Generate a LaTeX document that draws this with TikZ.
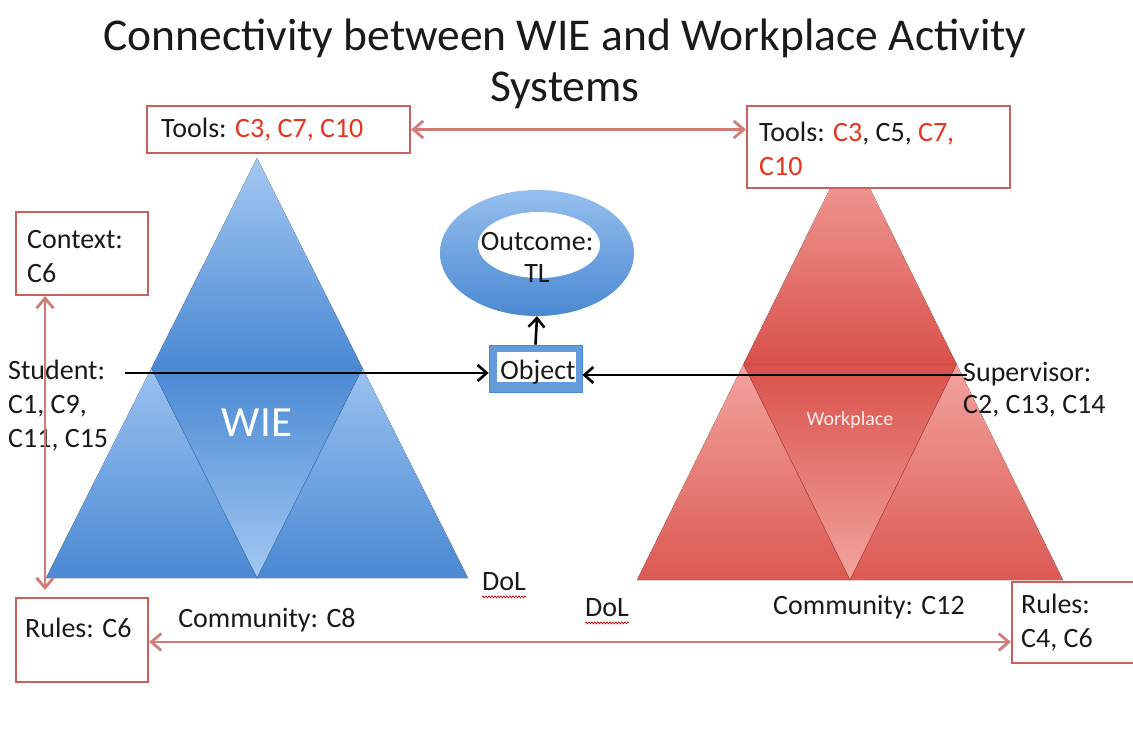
\documentclass[tikz,border=0pt]{standalone}
\usepackage{fontspec}
\setmainfont{Carlito}
\usetikzlibrary{arrows.meta,shapes.geometric,decorations.pathmorphing,calc}
\definecolor{boxred}{HTML}{C9605B}
\definecolor{arrred}{HTML}{D27B77}
\definecolor{txtred}{HTML}{E8331F}
\definecolor{txtblk}{HTML}{1A1A1A}
\definecolor{bluedark}{HTML}{4A89D3}
\definecolor{bluelight}{HTML}{A3C8F2}
\definecolor{blueedge}{HTML}{3F78BA}
\definecolor{reddark}{HTML}{D9514A}
\definecolor{redlight}{HTML}{F3A39E}
\definecolor{rededge}{HTML}{B5443E}
\begin{document}
\begin{tikzpicture}[x=1pt,y=-1pt,
  txt/.style={inner sep=0pt,text=txtblk,font=\fontsize{28}{34}\selectfont,align=left},
  box/.style={draw=boxred,line width=2.2pt,fill=white,rectangle,inner sep=0pt},
  redarrow/.style={draw=arrred,line width=2.8pt,{Straight Barb[length=10pt,width=17pt]}-{Straight Barb[length=10pt,width=17pt]}},
  blkarrow/.style={draw=black,line width=2.6pt,-{Straight Barb[length=9pt,width=16pt]}},
  wavy/.style={draw=red!80!black,line width=0.7pt,decorate,decoration={snake,amplitude=1pt,segment length=3pt}}
]
\useasboundingbox (0,0) rectangle (1133,734);
\fill[white] (0,0) rectangle (1133,734);

% title
\node[txt,font=\fontsize{45.5}{52}\selectfont,anchor=center] (title1) at (565,38) {Connectivity between WIE and Workplace Activity};
\node[txt,font=\fontsize{45.5}{52}\selectfont,anchor=center] (title2) at (565,90) {Systems};

% ---- blue (WIE) triangle
\coordinate (bA) at (257,158);
\coordinate (bBL) at (46,578);
\coordinate (bBR) at (468,578);
\coordinate (bML) at (151.5,368);
\coordinate (bMR) at (362.5,368);
\coordinate (bBM) at (257,578);
\fill[top color=bluelight,bottom color=bluedark] (bA) -- (bML) -- (bMR) -- cycle;
\fill[top color=bluelight!90!bluedark,bottom color=bluedark] (bML) -- (bBL) -- (bBM) -- cycle;
\fill[top color=bluelight!90!bluedark,bottom color=bluedark] (bMR) -- (bBM) -- (bBR) -- cycle;
\fill[top color=bluedark,bottom color=bluelight] (bML) -- (bMR) -- (bBM) -- cycle;
\draw[blueedge,line width=0.5pt] (bML) -- (bBM) -- (bMR) -- cycle;
\node[text=white,font=\fontsize{43}{50}\selectfont,inner sep=0pt] (wie) at (257,423) {WIE};

% ---- red (Workplace) triangle
\coordinate (rA) at (850,148);
\coordinate (rBL) at (637,580);
\coordinate (rBR) at (1063,580);
\coordinate (rML) at (743.5,364);
\coordinate (rMR) at (956.5,364);
\coordinate (rBM) at (850,580);
\fill[top color=redlight,bottom color=reddark] (rA) -- (rML) -- (rMR) -- cycle;
\fill[top color=redlight,bottom color=reddark!90!redlight] (rML) -- (rBL) -- (rBM) -- cycle;
\fill[top color=redlight,bottom color=reddark!90!redlight] (rMR) -- (rBM) -- (rBR) -- cycle;
\fill[top color=reddark,bottom color=redlight] (rML) -- (rMR) -- (rBM) -- cycle;
\draw[rededge,line width=0.5pt] (rML) -- (rBM) -- (rMR) -- cycle;
\node[text=white!92!red,font=\fontsize{20}{24}\selectfont,inner sep=0pt] (wp) at (850,420) {Workplace};

% ---- boxes
\node[box,minimum width=263,minimum height=47] (toolsL) at (278.5,129.5) {};
\node[txt,anchor=west] (toolsLt) at (161,130) {Tools: \textcolor{txtred}{C3, C7, C10}};
\node[box,minimum width=263,minimum height=82] (toolsR) at (878.5,147) {};
\node[txt,anchor=west] (toolsRt) at (759,149) {Tools: \textcolor{txtred}{C3}, C5, \textcolor{txtred}{C7,}\\\textcolor{txtred}{C10}};
\node[box,minimum width=132,minimum height=83] (context) at (82,253.5) {};
\node[txt,anchor=west] (contextt) at (27,257) {Context:\\C6};
\node[box,minimum width=132,minimum height=84] (rulesL) at (82,640) {};
\node[txt,anchor=west] (rulesLt) at (25,628) {Rules: C6};
\node[box,minimum width=128,minimum height=81] (rulesR) at (1076,622.5) {};
\node[txt,anchor=west] (rulesRt) at (1021,623) {Rules:\\C4, C6};

% ---- outcome ring and object
\node[ellipse,minimum width=194,minimum height=126,top color=bluelight!85!bluedark,bottom color=bluedark,inner sep=0pt] (outcome) at (537,253) {};
\node[ellipse,minimum width=122,minimum height=66,fill=white,inner sep=0pt] (outin) at (539,245) {};
\node[txt,align=center] (outcomet) at (537,257) {Outcome:\\[-2pt]TL};
\node[rectangle,minimum width=93,minimum height=47,fill=bluedark!85!white,draw=bluedark,line width=0.8pt,inner sep=0pt] (object) at (535.5,368.5) {};
\node[rectangle,minimum width=79,minimum height=30,fill=white,inner sep=0pt] (objin) at (536.5,367) {};
\node[txt] (objectt) at (538,372) {Object};

% ---- side labels
\node[txt,anchor=west] (student) at (8,406) {Student:\\C1, C9,\\C11, C15};
\node[txt,anchor=west] (supervisor) at (963,390) {Supervisor:\\[-2pt]C2, C13, C14};
\node[txt] (comm1) at (267,620) {Community: C8};
\node[txt] (comm2) at (869,607) {Community: C12};
\node[txt] (dol1) at (504,582) {DoL};
\node[txt] (dol2) at (607,608) {DoL};
\draw[wavy] ($(dol1.base west)+(0,6)$) -- ($(dol1.base east)+(0,6)$);
\draw[wavy] ($(dol2.base west)+(0,6)$) -- ($(dol2.base east)+(0,6)$);

% ---- connectors
\coordinate (stuStart) at (125,373);
\coordinate (supStart) at (967,375);
\draw[blkarrow] (stuStart) -- (stuStart -| object.west);
\draw[blkarrow] (supStart) -- (supStart -| object.east);
\draw[blkarrow] (object.north) -- (outcome.south);
\draw[redarrow] (toolsL.east) -- (toolsL.east -| toolsR.west);
\draw[redarrow,shorten >=7pt] ($(context.south)+(-37,0)$) -- ($(rulesL.north)+(-37,0)$);
\draw[redarrow] ($(rulesL.east)+(0,2)$) -- ($(rulesL.east -| rulesR.west)+(0,2)$);
\end{tikzpicture}
\end{document}
